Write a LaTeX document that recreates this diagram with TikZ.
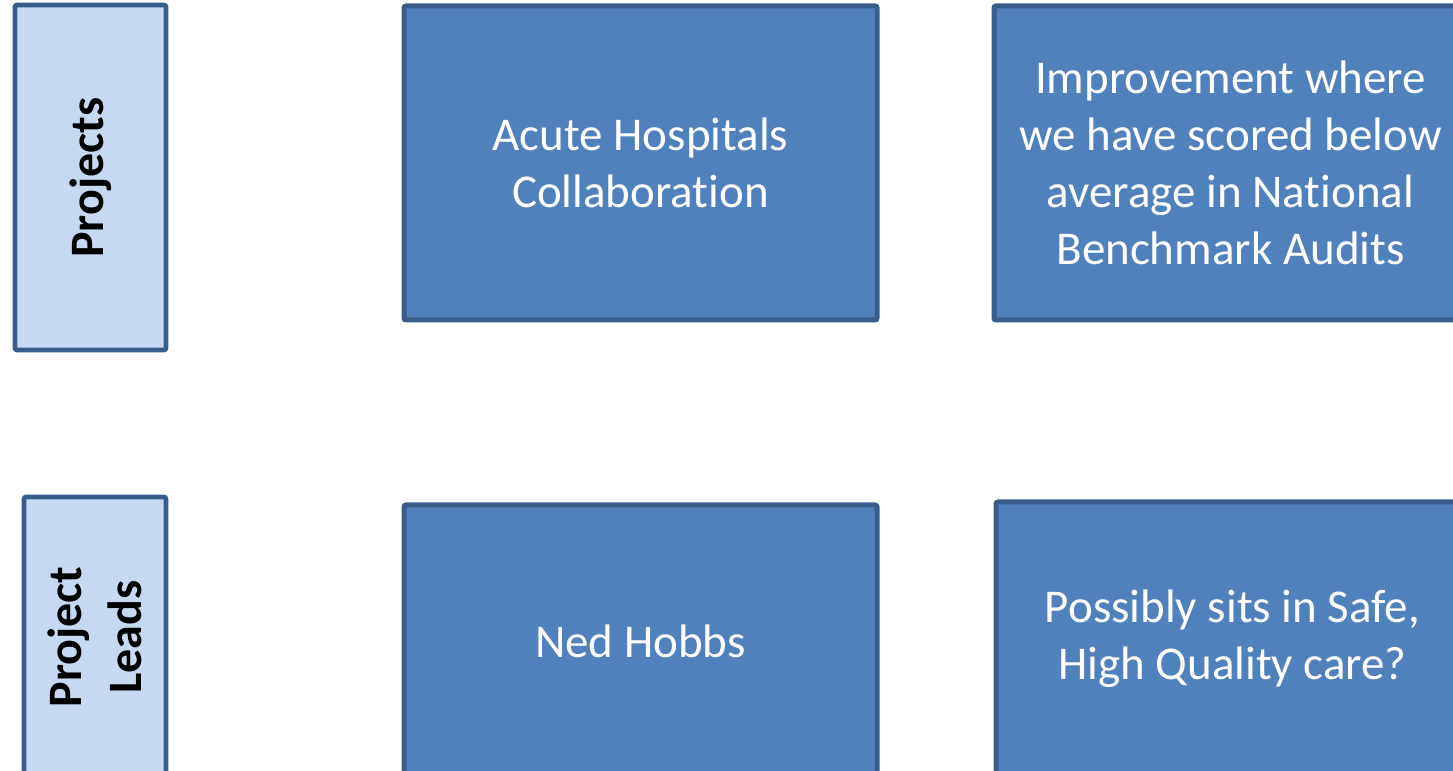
\documentclass[tikz,border=0pt]{standalone}
\usepackage{fontspec}
\setmainfont{Carlito}[Ligatures=NoCommon]
\usepackage{tikz}
\usetikzlibrary{positioning}

\definecolor{boxblue}{HTML}{4F81BD}
\definecolor{boxedge}{HTML}{385D8A}
\definecolor{paleblue}{HTML}{C6D9F1}

\begin{document}
\begin{tikzpicture}[x=0.5pt, y=0.5pt,
    headbox/.style={draw=boxedge, fill=paleblue, line width=2.3pt,
      rounded corners=1pt, rotate=90, align=center, inner sep=0pt,
      font=\bfseries\fontsize{24}{30}\selectfont},
    itembox/.style={draw=boxedge, fill=boxblue, line width=2.5pt,
      rounded corners=1pt, align=center, inner sep=0pt, text=white,
      minimum width=236.5pt,
      font=\fontsize{23.5}{28.5}\selectfont}]
  \useasboundingbox (0,0) rectangle (1453,771);
  \clip (0,0) rectangle (1453,771);

  % row headers (pale, vertical text)
  \node[headbox, minimum width=172.5pt, minimum height=75.5pt]
    (projects) at (90.5,593.5) {Projects};
  \node[headbox, minimum width=140pt, minimum height=71pt]
    (leads) at (95,134) {Project\\Leads};

  % top row: projects
  \node[itembox, minimum height=157pt] (acute) at (640.5,608)
    {Acute Hospitals\\Collaboration};
  \node[itembox, minimum height=157pt] (audits) at (1230.5,608)
    {Improvement where\\we have scored below\\average in National\\Benchmark Audits};

  % bottom row: leads
  \node[itembox, minimum height=136pt] (hobbs) at (640.5,130) {Ned Hobbs};
  \node[itembox, minimum height=137pt] (safe) at (1232.5,132)
    {Possibly sits in Safe,\\High Quality care?};
\end{tikzpicture}
\end{document}
